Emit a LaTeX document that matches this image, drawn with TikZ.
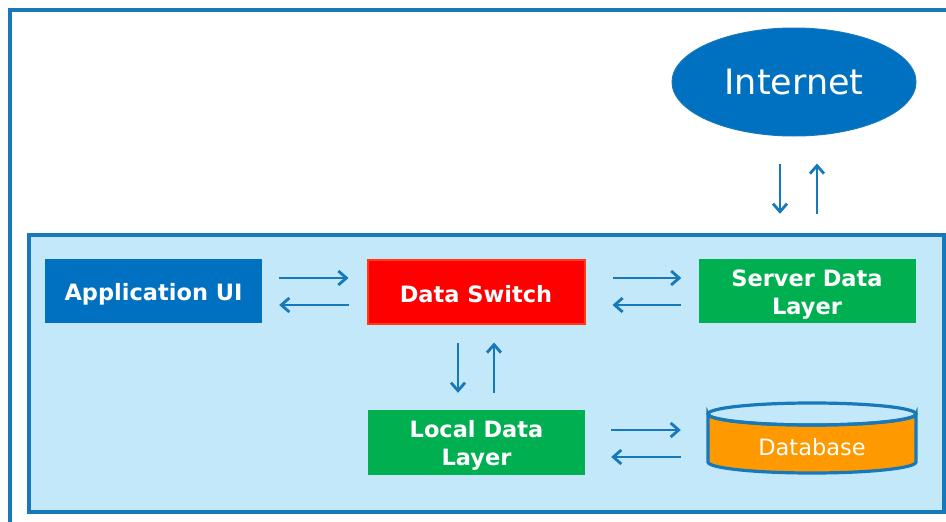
\documentclass[tikz,border=0pt]{standalone}
\usepackage{fontspec}
\setmainfont{DejaVu Sans}
\usetikzlibrary{arrows.meta,calc,shapes.geometric}
\definecolor{lineblue}{HTML}{1779B9}
\definecolor{appblue}{HTML}{0070C0}
\definecolor{lightbg}{HTML}{C2E8FA}
\definecolor{dsred}{HTML}{FF0000}
\definecolor{dsborder}{HTML}{FF3A10}
\definecolor{green}{HTML}{00B050}
\definecolor{orange}{HTML}{FF9900}
\newcommand\lowone[1]{\raisebox{-3pt}[\height][\depth]{#1}}
\newcommand\lowtwo[2]{\raisebox{-3.5pt}[\height][\depth]{\begin{tabular}{@{}c@{}}#1\\#2\end{tabular}}}
\begin{document}
\begin{tikzpicture}[x=1pt,y=-1pt,
  arr/.style={draw=lineblue, line width=2.8pt, -{Straight Barb[length=8pt,width=14pt,line width=2.8pt]}},
  box/.style={minimum width=217pt, minimum height=64pt, inner sep=0pt, text=white,
    font=\bfseries\fontsize{22.5}{28}\selectfont},
]
\useasboundingbox (0,0) rectangle (946,522);
\clip (0,0) rectangle (946,522);
% outer frame
\draw[lineblue, line width=3.6pt] (10,10) rectangle (990,570);
% system box
\node[draw=lineblue, fill=lightbg, line width=3.6pt, minimum width=915pt, minimum height=277pt,
  inner sep=0pt, anchor=north west] (sys) at (27,233) {};
% nodes
\node[box, fill=appblue] (app) at (153.5,291) {\lowone{Application UI}};
\node[box, fill=dsred, draw=dsborder, line width=2pt] (ds) at (476,291.5) {\lowone{Data Switch}};
\node[box, fill=green] (sdl) at (807,291) {\lowtwo{Server Data}{Layer}};
\node[box, fill=green, minimum height=65pt] (ldl) at (476.5,442.5) {\lowtwo{Local Data}{Layer}};
\node[ellipse, fill=appblue, draw=lineblue, line width=1pt, minimum width=244pt, minimum height=108pt,
  inner sep=0pt, text=white, font=\fontsize{35}{40}\selectfont] (inet) at (794,82) {Internet};
% database cylinder
\draw[fill=orange, draw=lineblue, line width=3.2pt]
  (708,414) -- (708,462) arc[start angle=180, end angle=360, x radius=104pt, y radius=11pt]
  -- (916,414) arc[start angle=0, end angle=-180, x radius=104pt, y radius=11pt] -- cycle;
\draw[draw=lineblue, line width=3.2pt] (812,414) ellipse[x radius=104pt, y radius=11pt];
\node[text=white, font=\fontsize{22.5}{28}\selectfont, inner sep=0pt, minimum width=208pt] (db) at (812,447) {Database};
% connectors
\draw[arr] ($(app.east)+(17,-13)$) -- ($(ds.west)+(-18,-13.5)$);
\draw[arr] ($(ds.west)+(-18,13.5)$) -- ($(app.east)+(17,14)$);
\draw[arr] ($(ds.east)+(27,-13.5)$) -- ($(sdl.west)+(-17,-13)$);
\draw[arr] ($(sdl.west)+(-17,14)$) -- ($(ds.east)+(27,13.5)$);
\draw[arr] ($(ds.south)+(-18,18)$) -- ($(ldl.north)+(-18.5,-17)$);
\draw[arr] ($(ldl.north)+(17.5,-17)$) -- ($(ds.south)+(18,18)$);
\draw[arr] ($(ldl.east)+(26,-12.5)$) -- ($(db.west)+(-27,-17)$);
\draw[arr] ($(db.west)+(-27,10)$) -- ($(ldl.east)+(26,14.5)$);
\draw[arr] ($(inet.south)+(-14,27)$) -- ($(sdl.north)+(-27,-45)$);
\draw[arr] ($(sdl.north)+(10,-45)$) -- ($(inet.south)+(23,27)$);
\end{tikzpicture}
\end{document}
